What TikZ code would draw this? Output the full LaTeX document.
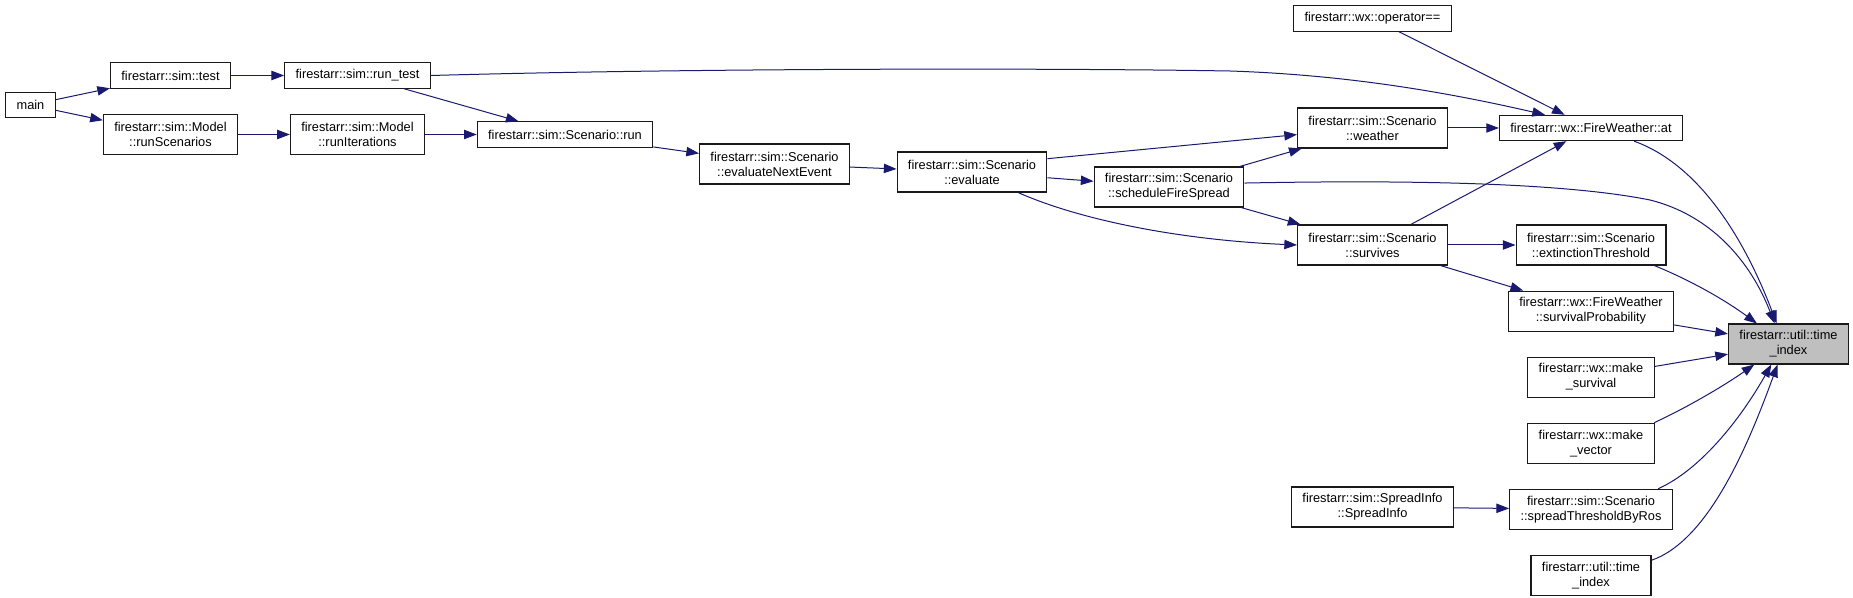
\documentclass[tikz,border=0pt]{standalone}
\usepackage{fontspec}
\setmainfont{Liberation Sans}
\usetikzlibrary{arrows.meta, positioning}
\definecolor{cEdge}{HTML}{191970}
\definecolor{cBorder}{HTML}{1A1A1A}
\definecolor{cItemBg}{HTML}{FFFFFF}
\definecolor{cRootBg}{HTML}{BFBFBF}

\begin{document}
\begin{tikzpicture}[
    x=0.75pt, y=-0.75pt,
    font=\fontsize{9.6}{11.25}\selectfont,
    >={Triangle[length=9.5pt, width=7pt]},
    % Function boxes (one and two text lines)
    fn_box/.style={rectangle, draw=cBorder, line width=0.8pt, fill=cItemBg, align=center, inner xsep=8.2pt, inner ysep=2pt, minimum height=19pt},
    fn_box2/.style={fn_box, minimum height=30pt},
    root_box/.style={fn_box2, fill=cRootBg},
    % Call arrow
    arrow/.style={->, line width=0.75pt, draw=cEdge}
]
\useasboundingbox (0,0) rectangle (1853,598);

% --- CALLERS, LEFT PART ---
\node[fn_box] (main) at (30.5,105) {main};
\node[fn_box] (test) at (170.5,75.5) {firestarr::sim::test};
\node[fn_box2] (run_scenarios) at (170.5,134.5) {firestarr::sim::Model\\::runScenarios};
\node[fn_box] (run_test) at (357.5,75.5) {firestarr::sim::run\_test};
\node[fn_box2] (run_iterations) at (357.5,134.5) {firestarr::sim::Model\\::runIterations};
\node[fn_box] (run) at (565,134.5) {firestarr::sim::Scenario::run};
\node[fn_box2] (next_event) at (774.5,164) {firestarr::sim::Scenario\\::evaluateNextEvent};
\node[fn_box2] (evaluate) at (972,172) {firestarr::sim::Scenario\\::evaluate};
\node[fn_box2] (fire_spread) at (1169,187) {firestarr::sim::Scenario\\::scheduleFireSpread};

% --- MIDDLE COLUMN ---
\node[fn_box] (op_eq) at (1372.5,18.5) {firestarr::wx::operator==};
\node[fn_box2] (weather) at (1372.5,128) {firestarr::sim::Scenario\\::weather};
\node[fn_box2] (survives) at (1372.5,245) {firestarr::sim::Scenario\\::survives};
\node[fn_box2] (spread_info) at (1372.5,507) {firestarr::sim::SpreadInfo\\::SpreadInfo};

% --- RIGHT COLUMN ---
\node[fn_box] (fw_at) at (1591,128) {firestarr::wx::FireWeather::at};
\node[fn_box2] (extinction) at (1591,245) {firestarr::sim::Scenario\\::extinctionThreshold};
\node[fn_box2, below=18.75pt of extinction] (survival_prob) {firestarr::wx::FireWeather\\::survivalProbability};
\node[fn_box2, below=18.75pt of survival_prob] (make_survival) {firestarr::wx::make\\\_survival};
\node[fn_box2, below=18.75pt of make_survival] (make_vector) {firestarr::wx::make\\\_vector};
\node[fn_box2, below=18.75pt of make_vector] (spread_ros) {firestarr::sim::Scenario\\::spreadThresholdByRos};
\node[fn_box2, below=18.75pt of spread_ros] (time_index_b) {firestarr::util::time\\\_index};

% --- ROOT ---
\node[root_box] (time_index) at (1788.5,344) {firestarr::util::time\\\_index};

% --- ARROWS ---
\draw[arrow] (main) -- (test);
\draw[arrow] (main) -- (run_scenarios);
\draw[arrow] (test) -- (run_test);
\draw[arrow] (run_scenarios) -- (run_iterations);
\draw[arrow] (run_test) -- (run);
\draw[arrow] (run_iterations) -- (run);
\draw[arrow] (run_test.east) .. controls (700,68) and (1050,68) .. (1230,71) .. controls (1350,75) and (1450,93) .. (fw_at.164);
\draw[arrow] (run) -- (next_event);
\draw[arrow] (next_event) -- (evaluate);
\draw[arrow] (evaluate.10) -- (weather.185);
\draw[arrow] (evaluate) -- (fire_spread);
\draw[arrow] (evaluate.336) .. controls (1080,220) and (1180,240) .. (survives.west);
\draw[arrow] (fire_spread) -- (weather);
\draw[arrow] (fire_spread) -- (survives);
\draw[arrow] (fire_spread.3) .. controls (1400,180) and (1560,182) .. (1650,200) .. controls (1710,215) and (1750,260) .. (time_index.124);
\draw[arrow] (op_eq) -- (fw_at);
\draw[arrow] (weather) -- (fw_at);
\draw[arrow] (survives) -- (fw_at);
\draw[arrow] (survives) -- (extinction);
\draw[arrow] (survives) -- (survival_prob);
\draw[arrow] (spread_info) -- (spread_ros);
\draw[arrow] (fw_at.343) .. controls (1700,165) and (1745,240) .. (time_index.120);
\draw[arrow] (extinction.342) .. controls (1690,280) and (1725,300) .. (time_index.147);
\draw[arrow] (survival_prob) -- (time_index);
\draw[arrow] (make_survival) -- (time_index);
\draw[arrow] (make_vector.18) .. controls (1690,406) and (1725,385) .. (time_index.211);
\draw[arrow] (spread_ros.17) .. controls (1700,470) and (1740,420) .. (time_index.230);
\draw[arrow] (time_index_b.14) .. controls (1710,540) and (1750,440) .. (time_index.242);

\end{tikzpicture}
\end{document}
